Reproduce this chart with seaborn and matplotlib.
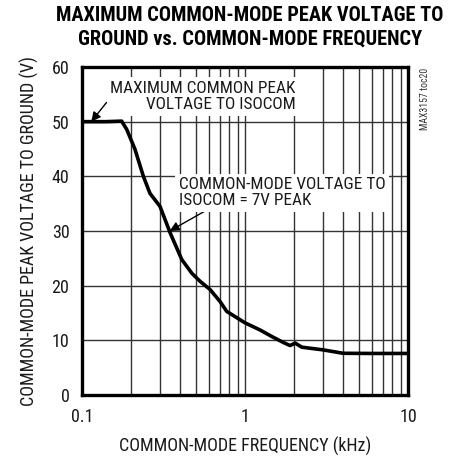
import matplotlib
matplotlib.use("Agg")
import matplotlib.pyplot as plt
from matplotlib import font_manager
from matplotlib.ticker import LogLocator, FixedLocator, NullFormatter
import seaborn as sns
import pandas as pd

# ---- data ----
freq_khz = [0.1, 0.14, 0.175, 0.188, 0.211, 0.238, 0.261, 0.301, 0.347, 0.409,
            0.471, 0.53, 0.61, 0.703, 0.772, 1.0, 1.236, 1.46, 1.72, 1.89,
            2.03, 2.23, 3.02, 4.0, 6.0, 10.0]
peak_v = [50.0, 50.0, 50.1, 48.6, 45.0, 40.0, 36.9, 34.5, 29.7, 24.8,
          22.3, 20.8, 19.3, 17.1, 15.3, 13.2, 11.9, 10.7, 9.6, 9.05,
          9.5, 8.75, 8.25, 7.63, 7.6, 7.6]
y_ticks = [0, 10, 20, 30, 40, 50, 60]
x_ticks = [0.1, 1, 10]
x_tick_labels = ["0.1", "1", "10"]

title = "MAXIMUM COMMON-MODE PEAK VOLTAGE TO\nGROUND vs. COMMON-MODE FREQUENCY"
xlabel = "COMMON-MODE FREQUENCY (kHz)"
ylabel = "COMMON-MODE PEAK VOLTAGE TO GROUND (V)"
note1 = "MAXIMUM COMMON PEAK\nVOLTAGE TO ISOCOM"
note2 = "COMMON-MODE VOLTAGE TO\nISOCOM = 7V PEAK"
tag = "MAX3157 toc20"

df = pd.DataFrame({"freq": freq_khz, "volt": peak_v})

sns.set_style("white")
avail = {f.name for f in font_manager.fontManager.ttflist}
fam = None
for cand in ["Liberation Sans Narrow", "Roboto Condensed", "Arial Narrow", "Liberation Sans"]:
    if cand in avail:
        fam = cand
        break
plt.rcParams["font.family"] = [fam, "DejaVu Sans"]

fig = plt.figure(figsize=(4.49, 4.57), dpi=100)
ax = fig.add_axes([82 / 449, 1 - 395 / 457, 326 / 449, 328 / 457])

sns.lineplot(data=df, x="freq", y="volt", ax=ax, color="black", linewidth=2.6, zorder=5)

ax.set_xscale("log")
ax.set_xlim(0.1, 10)
ax.set_ylim(0, 60)
ax.xaxis.set_major_locator(FixedLocator(x_ticks))
ax.set_xticklabels(x_tick_labels)
ax.xaxis.set_minor_locator(LogLocator(base=10, subs=range(2, 10)))
ax.xaxis.set_minor_formatter(NullFormatter())
ax.set_yticks(y_ticks)
ax.grid(True, which="both", axis="x", color="#333333", linewidth=1.0)
ax.grid(True, which="major", axis="y", color="#333333", linewidth=1.0)
ax.tick_params(axis="both", which="both", length=0, labelsize=13, colors="#1a1a1a")
ax.tick_params(axis="x", pad=9)
ax.tick_params(axis="y", pad=9)
for s in ax.spines.values():
    s.set_linewidth(2.4)
    s.set_color("black")

ax.set_xlabel(xlabel, fontsize=13, labelpad=8, color="#1a1a1a")
ax.set_ylabel(ylabel, fontsize=13, labelpad=9, color="#1a1a1a")

fig.text(0.556, 0.986, title, ha="center", va="top", fontsize=14.7, fontweight="bold",
         linespacing=1.3, color="black")

bbox = dict(boxstyle="square,pad=0.2", fc="white", ec="none")
ax.annotate(note1, xy=(0.114, 50), xytext=(0.55, 54.6), ha="center", va="center",
            fontsize=12.4, color="#1a1a1a", bbox=bbox, zorder=6, multialignment="right",
            linespacing=1.1,
            arrowprops=dict(arrowstyle="-|>", color="black", lw=1.0, mutation_scale=14,
                            shrinkA=0, shrinkB=0, relpos=(0.0, 0.45)))
ax.annotate(note2, xy=(0.345, 30.0), xytext=(1.69, 37.0), ha="center", va="center",
            fontsize=12.4, color="#1a1a1a", bbox=bbox, zorder=6, multialignment="left",
            linespacing=1.1,
            arrowprops=dict(arrowstyle="-|>", color="black", lw=1.0, mutation_scale=14,
                            shrinkA=0, shrinkB=0, relpos=(0.15, 0.0)))

fig.text(425 / 449, 1 - 68 / 457, tag, rotation=90, ha="center", va="top", fontsize=7,
         color="#333333")

fig.savefig("out.png", dpi=100)
